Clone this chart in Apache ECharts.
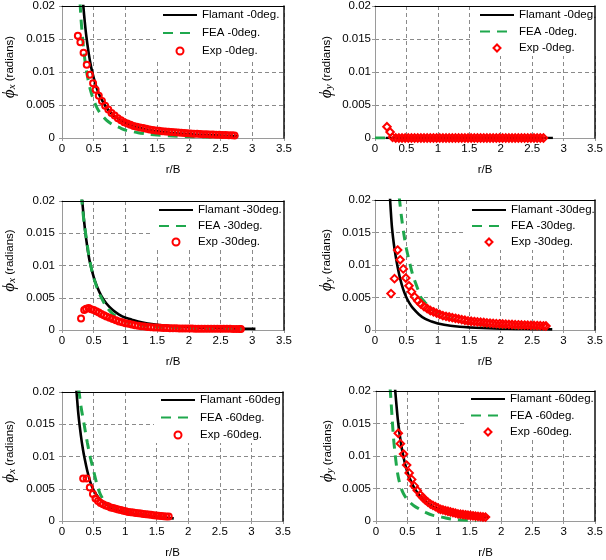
<!DOCTYPE html>
<html><head><meta charset="utf-8">
<script src="https://cdn.jsdelivr.net/npm/echarts@6/dist/echarts.min.js"></script>
<style>html,body{margin:0;padding:0;background:#fff}#c{width:606px;height:560px}</style>
</head><body><div id="c"></div>
<script>
// ---- data: [r/B, phi (radians)] ----
const xTickValues = [0, 0.5, 1, 1.5, 2, 2.5, 3, 3.5];
const yTickValues = [0, 0.005, 0.01, 0.015, 0.02];

// Panel 1: phi_x, 0 deg
const flamantX0 = [[0.33,0.0208],[0.35,0.0185],[0.38,0.0157],[0.42,0.0129],[0.46,0.0107],[0.5,0.0091],[0.55,0.0075],[0.6,0.0063],[0.65,0.0054],[0.7,0.0046],[0.8,0.0035],[0.9,0.0028],[1.0,0.0023],[1.1,0.0019],[1.2,0.0016],[1.35,0.00125],[1.5,0.001],[1.7,0.0008],[1.9,0.00063],[2.1,0.00051],[2.3,0.00043],[2.5,0.00036],[2.65,0.00032],[2.78,0.00029]];
const feaX0 = [[0.285,0.0205],[0.3,0.018],[0.33,0.0146],[0.36,0.0119],[0.4,0.0094],[0.45,0.0072],[0.5,0.0057],[0.55,0.0046],[0.6,0.0038],[0.7,0.0027],[0.8,0.002],[0.9,0.0016],[1.0,0.0012],[1.1,0.001],[1.2,0.0008],[1.35,0.0006],[1.5,0.00045],[1.75,0.0003],[2.0,0.00022],[2.3,0.00016],[2.6,0.00012],[2.75,0.0001]];
const expX0 = [[0.25,0.0155],[0.29,0.0145],[0.34,0.0129],[0.39,0.0111],[0.44,0.0096],[0.49,0.0083],[0.53,0.0073],[0.58,0.0064],[0.63,0.0056],[0.68,0.0049],[0.73,0.0043],[0.78,0.0038],[0.83,0.0034],[0.88,0.003],[0.93,0.0027],[0.98,0.0024],[1.03,0.0022],[1.08,0.002],[1.13,0.0018],[1.18,0.0017],[1.23,0.0016],[1.28,0.0015],[1.33,0.0014],[1.38,0.0013],[1.43,0.0012],[1.48,0.00115],[1.53,0.0011],[1.58,0.00104],[1.63,0.00099],[1.68,0.00094],[1.73,0.0009],[1.78,0.00086],[1.83,0.00082],[1.88,0.00078],[1.93,0.00075],[1.98,0.00072],[2.03,0.00069],[2.08,0.00066],[2.13,0.00063],[2.18,0.0006],[2.23,0.00058],[2.28,0.00056],[2.33,0.00054],[2.38,0.00052],[2.43,0.0005],[2.48,0.00048],[2.53,0.00046],[2.58,0.00044],[2.63,0.00042],[2.68,0.0004],[2.72,0.00038]];

// Panel 2: phi_y, 0 deg
const flamantY0 = [[0.17,0],[2.83,0]];
const feaY0 = [[0,0],[0.17,0]];
const expY0 = [[0.19,0.0017],[0.24,0.0009],[0.28,0.0001],[0.33,0],[0.38,0],[0.43,0],[0.48,0],[0.53,0],[0.58,0],[0.63,0],[0.68,0],[0.73,0],[0.78,0],[0.83,0],[0.88,0],[0.93,0],[0.98,0],[1.03,0],[1.08,0],[1.13,0],[1.18,0],[1.23,0],[1.28,0],[1.33,0],[1.38,0],[1.43,0],[1.48,0],[1.53,0],[1.58,0],[1.63,0],[1.68,0],[1.73,0],[1.78,0],[1.83,0],[1.88,0],[1.93,0],[1.98,0],[2.03,0],[2.08,0],[2.13,0],[2.18,0],[2.23,0],[2.28,0],[2.33,0],[2.38,0],[2.43,0],[2.48,0],[2.53,0],[2.58,0],[2.63,0],[2.68,0]];

// Panel 3: phi_x, 30 deg
const flamantX30 = [[0.31,0.0213],[0.33,0.0188],[0.36,0.0158],[0.4,0.0128],[0.44,0.0105],[0.5,0.0082],[0.55,0.0068],[0.62,0.0053],[0.7,0.0041],[0.8,0.0031],[0.9,0.0024],[1.0,0.0019],[1.1,0.0016],[1.2,0.0013],[1.35,0.001],[1.5,0.0008],[1.7,0.0006],[1.9,0.00048],[2.1,0.0004],[2.3,0.00033],[2.5,0.00028],[2.7,0.00024],[2.9,0.0002],[3.05,0.00018]];
const feaX30 = [[0.3,0.021],[0.32,0.0193],[0.35,0.0165],[0.38,0.0145],[0.42,0.0118],[0.46,0.0097],[0.5,0.0081],[0.55,0.0066],[0.6,0.0054],[0.7,0.0036],[0.8,0.0025],[0.9,0.0018],[1.0,0.0013],[1.1,0.001],[1.2,0.0008],[1.35,0.0006],[1.5,0.00045],[1.7,0.00035],[2.0,0.00026],[2.3,0.0002],[2.6,0.00017],[2.85,0.00015]];
const expX30 = [[0.3,0.0018],[0.35,0.0031],[0.38,0.0033],[0.42,0.0034],[0.46,0.0032],[0.5,0.0031],[0.54,0.0029],[0.58,0.0027],[0.62,0.0025],[0.66,0.0023],[0.7,0.0021],[0.75,0.0019],[0.8,0.0017],[0.85,0.0015],[0.9,0.0013],[0.95,0.0012],[1.0,0.00105],[1.05,0.00095],[1.1,0.00085],[1.15,0.00075],[1.2,0.00067],[1.25,0.0006],[1.3,0.00054],[1.35,0.00048],[1.4,0.00044],[1.45,0.0004],[1.5,0.00037],[1.55,0.00034],[1.6,0.00032],[1.65,0.0003],[1.7,0.00028],[1.75,0.00027],[1.8,0.00026],[1.85,0.00025],[1.9,0.00024],[1.95,0.00023],[2.0,0.00022],[2.05,0.00022],[2.1,0.00021],[2.15,0.00021],[2.2,0.0002],[2.25,0.0002],[2.3,0.0002],[2.35,0.00019],[2.4,0.00019],[2.45,0.00019],[2.5,0.00018],[2.55,0.00018],[2.6,0.00018],[2.65,0.00018],[2.7,0.00017],[2.75,0.00017],[2.8,0.00017],[2.82,0.00017]];

// Panel 4: phi_y, 30 deg
const flamantY30 = [[0.235,0.021],[0.25,0.0185],[0.27,0.0158],[0.3,0.0132],[0.33,0.0113],[0.36,0.0097],[0.4,0.0079],[0.45,0.0062],[0.5,0.005],[0.55,0.0041],[0.6,0.0034],[0.7,0.0024],[0.8,0.0017],[0.9,0.0013],[1.0,0.001],[1.1,0.0008],[1.2,0.00065],[1.35,0.0005],[1.5,0.0004],[1.7,0.0003],[1.9,0.00024],[2.1,0.0002],[2.4,0.00015],[2.65,0.00012],[2.82,0.0001]];
const feaY30 = [[0.385,0.0205],[0.42,0.0175],[0.46,0.0147],[0.5,0.0125],[0.56,0.01],[0.6,0.0085],[0.65,0.0071],[0.7,0.0058],[0.73,0.005],[0.8,0.0042],[0.87,0.0035],[0.95,0.0029],[1.0,0.0026],[1.1,0.0021],[1.2,0.0017],[1.35,0.0013],[1.5,0.001],[1.75,0.0007],[2.0,0.0005],[2.3,0.00035],[2.6,0.00025],[2.75,0.00022]];
const expY30 = [[0.255,0.0056],[0.31,0.0079],[0.36,0.0123],[0.4,0.0108],[0.45,0.0094],[0.49,0.008],[0.54,0.0068],[0.58,0.0059],[0.63,0.0051],[0.68,0.0045],[0.73,0.004],[0.78,0.0036],[0.83,0.0033],[0.88,0.003],[0.93,0.0028],[0.98,0.0026],[1.03,0.0024],[1.08,0.0022],[1.13,0.0021],[1.18,0.002],[1.23,0.0019],[1.28,0.0018],[1.33,0.0017],[1.38,0.0016],[1.43,0.0015],[1.48,0.0014],[1.53,0.00135],[1.58,0.0013],[1.63,0.00125],[1.68,0.0012],[1.73,0.00115],[1.78,0.0011],[1.83,0.00106],[1.88,0.00102],[1.93,0.00098],[1.98,0.00095],[2.03,0.00092],[2.08,0.0009],[2.13,0.00087],[2.18,0.00085],[2.23,0.00082],[2.28,0.0008],[2.33,0.00078],[2.38,0.00076],[2.43,0.00074],[2.48,0.00072],[2.53,0.0007],[2.58,0.00068],[2.63,0.00066],[2.68,0.00064],[2.72,0.00062]];

// Panel 5: phi_x, 60 deg
const flamantX60 = [[0.225,0.0205],[0.23,0.02],[0.26,0.0165],[0.3,0.0132],[0.33,0.0112],[0.36,0.0096],[0.4,0.0078],[0.45,0.006],[0.5,0.0048],[0.55,0.004],[0.6,0.0034],[0.7,0.0026],[0.8,0.002],[0.9,0.0016],[1.0,0.0013],[1.1,0.0011],[1.2,0.00095],[1.3,0.00082],[1.4,0.0007],[1.5,0.0006],[1.6,0.00052],[1.7,0.00045],[1.77,0.0004]];
const feaX60 = [[0.265,0.0205],[0.3,0.0178],[0.35,0.015],[0.4,0.0122],[0.45,0.0098],[0.5,0.0078],[0.55,0.0058],[0.6,0.0043],[0.65,0.0034],[0.7,0.0029],[0.8,0.0022],[0.9,0.0018],[1.0,0.0015],[1.2,0.0011],[1.4,0.0008],[1.6,0.0006],[1.73,0.0005]];
const expX60 = [[0.335,0.0066],[0.39,0.0066],[0.44,0.0052],[0.49,0.0042],[0.53,0.0035],[0.57,0.0031],[0.61,0.0028],[0.65,0.0026],[0.69,0.0024],[0.73,0.0023],[0.77,0.0021],[0.81,0.002],[0.85,0.0019],[0.89,0.0018],[0.93,0.0017],[0.97,0.0016],[1.01,0.0015],[1.05,0.0014],[1.09,0.00135],[1.13,0.0013],[1.17,0.00125],[1.21,0.0012],[1.25,0.00115],[1.29,0.0011],[1.33,0.00105],[1.37,0.001],[1.41,0.00095],[1.45,0.0009],[1.49,0.00085],[1.53,0.0008],[1.57,0.00077],[1.61,0.00074],[1.65,0.00071],[1.69,0.00068]];

// Panel 6: phi_y, 60 deg
const flamantY60 = [[0.295,0.0215],[0.32,0.0186],[0.35,0.0155],[0.38,0.0132],[0.41,0.0113],[0.44,0.0098],[0.48,0.0082],[0.52,0.007],[0.56,0.0061],[0.6,0.0053],[0.65,0.0045],[0.7,0.0039],[0.8,0.003],[0.9,0.0023],[1.0,0.0019],[1.1,0.0016],[1.2,0.0013],[1.3,0.0011],[1.4,0.00097],[1.5,0.00084],[1.6,0.00074],[1.7,0.00066],[1.8,0.00059]];
const feaY60 = [[0.225,0.0205],[0.24,0.0185],[0.26,0.0155],[0.28,0.0128],[0.3,0.0108],[0.33,0.0083],[0.36,0.0066],[0.4,0.0051],[0.44,0.0042],[0.5,0.0033],[0.55,0.0028],[0.6,0.0024],[0.7,0.0018],[0.8,0.0013],[0.9,0.0009],[1.0,0.0007],[1.1,0.0005],[1.2,0.0003],[1.3,0.0002],[1.45,0.0001],[1.6,0.00005]];
const expY60 = [[0.356,0.0135],[0.39,0.0119],[0.44,0.0103],[0.49,0.0086],[0.53,0.0074],[0.57,0.0064],[0.61,0.0054],[0.66,0.0047],[0.71,0.004],[0.75,0.0036],[0.79,0.0032],[0.83,0.0029],[0.87,0.0026],[0.91,0.0024],[0.95,0.0022],[0.99,0.002],[1.03,0.0018],[1.07,0.0017],[1.11,0.0016],[1.15,0.0015],[1.19,0.0014],[1.23,0.0013],[1.27,0.0012],[1.31,0.0011],[1.35,0.00105],[1.39,0.001],[1.43,0.00095],[1.47,0.0009],[1.51,0.00085],[1.55,0.0008],[1.59,0.00075],[1.63,0.0007],[1.67,0.00066],[1.71,0.00062],[1.75,0.0006]];

const legendNames = [
  ['Flamant -0deg.', 'FEA -0deg.', 'Exp -0deg.'],
  ['Flamant -0deg.', 'FEA -0deg.', 'Exp -0deg.'],
  ['Flamant -30deg.', 'FEA -30deg.', 'Exp -30deg.'],
  ['Flamant -30deg.', 'FEA -30deg.', 'Exp -30deg.'],
  ['Flamant -60deg', 'FEA -60deg.', 'Exp -60deg.'],
  ['Flamant -60deg.', 'FEA -60deg.', 'Exp -60deg.']
];
const panelComponent = ['x', 'y', 'x', 'y', 'x', 'y'];
const panelData = [
  [flamantX0, feaX0, expX0], [flamantY0, feaY0, expY0],
  [flamantX30, feaX30, expX30], [flamantY30, feaY30, expY30],
  [flamantX60, feaX60, expX60], [flamantY60, feaY60, expY60]
];

// ---- layout ----
const grids = [
  {left: 60, top: 6, width: 224, height: 132},
  {left: 375, top: 5, width: 224, height: 133},
  {left: 60, top: 201, width: 224, height: 129},
  {left: 375, top: 200, width: 220, height: 130},
  {left: 60, top: 392, width: 223, height: 134},
  {left: 376, top: 391, width: 219, height: 135}
];
const legendPos = [
  {left: 156, top: 4, gap: 4},
  {left: 473, top: 4, gap: 2.5},
  {left: 152, top: 199, gap: 2},
  {left: 465, top: 199, gap: 2},
  {left: 154, top: 389, gap: 3.5},
  {left: 464, top: 388, gap: 2.5}
];
const yLabelMargin = [7, 4, 7, 4, 7, 5];
const yNameGap = [44, 40, 44, 40, 44, 40];

const FONT = 'Liberation Sans';
const GRAY = '#9a9a9a';
const DIAMOND_ICON = 'path://M0,-10L10,0L0,10L-10,0Z';
const xAxes = [], yAxes = [], series = [], legends = [];

grids.forEach((g, i) => {
  xAxes.push({
    type: 'value', gridIndex: i, min: 0, max: 3.5, interval: 0.5,
    name: 'r/B', nameLocation: 'middle', nameGap: 26,
    nameTextStyle: {fontSize: 11.5, fontFamily: FONT, color: '#000'},
    axisLine: {show: true, onZero: false, lineStyle: {color: GRAY, width: 1}},
    axisTick: {show: true, length: 3, lineStyle: {color: GRAY}},
    axisLabel: {fontSize: 11.5, fontFamily: FONT, color: '#000', margin: 5},
    splitLine: {show: true, lineStyle: {color: '#8a8a8a', type: [4, 3], width: 1}}
  });
  const comp = panelComponent[i];
  yAxes.push({
    type: 'value', gridIndex: i, min: 0, max: 0.02, interval: 0.005,
    name: '{p|ϕ}{s|' + comp + '}{r| (radians)}', nameLocation: 'middle', nameGap: yNameGap[i],
    nameTextStyle: {
      color: '#000', padding: [0, 0, 0, 10],
      rich: {
        p: {fontFamily: 'Liberation Serif', fontStyle: 'italic', fontSize: 17, color: '#000'},
        s: {fontFamily: 'Liberation Serif', fontStyle: 'italic', fontSize: 11, color: '#000', padding: [6, 0, 0, 0]},
        r: {fontFamily: FONT, fontSize: 11.5, color: '#000'}
      }
    },
    axisLine: {show: true, onZero: false, lineStyle: {color: GRAY, width: 1}},
    axisTick: {show: true, length: 3, lineStyle: {color: GRAY}},
    axisLabel: {fontSize: 11.5, fontFamily: FONT, color: '#000', margin: yLabelMargin[i]},
    splitLine: {show: true, lineStyle: {color: '#8a8a8a', type: [4, 3], width: 1}}
  });
  const names = legendNames[i].map(n => n + '#' + i);
  const d = panelData[i];
  series.push({
    type: 'line', name: names[0], xAxisIndex: i, yAxisIndex: i, data: d[0],
    symbol: 'none', smooth: 0.3, lineStyle: {color: '#000', width: 2.6},
    itemStyle: {color: 'rgba(0,0,0,0)', borderWidth: 0}, z: 2
  });
  series.push({
    type: 'line', name: names[1], xAxisIndex: i, yAxisIndex: i, data: d[1],
    symbol: 'none', smooth: 0.3, lineStyle: {color: '#1fa84d', width: 3, type: [10, 7]},
    itemStyle: {color: 'rgba(0,0,0,0)', borderWidth: 0}, z: 3
  });
  series.push({
    type: 'scatter', name: names[2], xAxisIndex: i, yAxisIndex: i, data: d[2],
    symbol: comp === 'x' ? 'circle' : 'diamond', symbolSize: comp === 'x' ? 6 : 7.5,
    itemStyle: {color: 'rgba(255,255,255,0)', borderColor: '#ff0000', borderWidth: 2, opacity: 1}, z: 4
  });
  const lp = legendPos[i];
  legends.push({
    show: true, orient: 'vertical', left: lp.left, top: lp.top, itemGap: lp.gap,
    itemWidth: 34, itemHeight: 7, padding: [4, 3, 1, 6], backgroundColor: '#fff',
    selectedMode: false, symbolKeepAspect: true,
    data: [
      {name: names[0]},
      {name: names[1]},
      comp === 'x' ? {name: names[2], icon: 'circle'} : {name: names[2], icon: DIAMOND_ICON}
    ],
    formatter: n => n.split('#')[0],
    textStyle: {fontSize: 11.5, fontFamily: FONT, color: '#000', lineHeight: 14}
  });
});

// frame lines (top and right) for each panel
grids.forEach((g, i) => {
  xAxes.push({
    type: 'value', gridIndex: i, position: 'top', min: 0, max: 3.5, z: 10,
    axisLine: {show: true, onZero: false, lineStyle: {color: '#000', width: 1}},
    axisTick: {show: false}, axisLabel: {show: false}, splitLine: {show: false}
  });
  yAxes.push({
    type: 'value', gridIndex: i, position: 'right', min: 0, max: 0.02, z: 10,
    axisLine: {show: true, onZero: false, lineStyle: {color: '#111', width: 1.5}},
    axisTick: {show: false}, axisLabel: {show: false}, splitLine: {show: false}
  });
});

const chart = echarts.init(document.getElementById('c'), null, {renderer: 'canvas'});
chart.setOption({
  animation: false,
  backgroundColor: '#fff',
  textStyle: {fontFamily: FONT},
  grid: grids,
  xAxis: xAxes,
  yAxis: yAxes,
  legend: legends,
  series: series
});
</script>
</body></html>
